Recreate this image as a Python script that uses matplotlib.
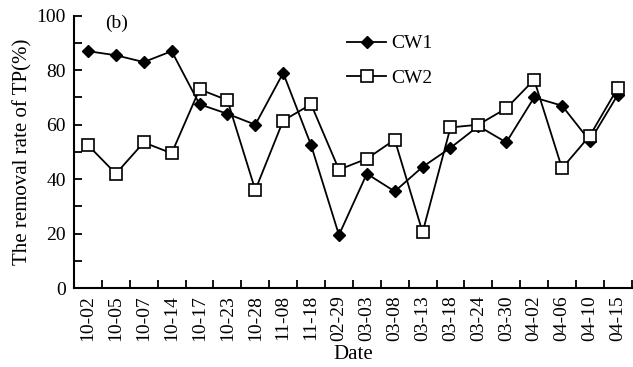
import matplotlib
matplotlib.use("Agg")
import matplotlib.pyplot as plt
from matplotlib.ticker import MultipleLocator, FixedLocator

dates = ["10-02", "10-05", "10-07", "10-14", "10-17", "10-23", "10-28", "11-08", "11-18", "02-29",
         "03-03", "03-08", "03-13", "03-18", "03-24", "03-30", "04-02", "04-06", "04-10", "04-15"]
cw1 = [87, 85.5, 83, 87, 67.5, 64, 60, 79, 52.5, 19.5,
       42, 35.5, 44.5, 51.5, 59.5, 53.5, 70, 67, 54, 71]
cw2 = [52.5, 42, 53.5, 49.5, 73, 69, 36, 61.5, 67.5, 43.5,
       47.5, 54.5, 20.5, 59, 60, 66, 76.5, 44, 56, 73.5]

plt.rcParams['font.family'] = ['Liberation Serif', 'DejaVu Serif']
fig = plt.figure(figsize=(6.33, 3.67), dpi=100)
ax = fig.add_axes([0.117, 0.215, 0.881, 0.742])

x = list(range(len(dates)))
ax.plot(x, cw1, color='black', lw=1.3, marker='D', ms=6, mfc='black', mec='black', label='CW1')
ax.plot(x, cw2, color='black', lw=1.3, marker='s', ms=8, mfc='white', mec='black', mew=1.2, label='CW2')

ax.set_xlim(-0.5, 19.5)
ax.set_ylim(0, 100)
ax.spines['top'].set_visible(False)
ax.spines['right'].set_visible(False)
for s in ['left', 'bottom']:
    ax.spines[s].set_linewidth(1.5)

ax.set_xticks(x)
ax.set_xticklabels(dates, rotation=90, fontsize=14)
ax.tick_params(axis='x', which='major', length=0, pad=5)
ax.xaxis.set_minor_locator(FixedLocator([i + 0.5 for i in range(len(dates))]))
ax.tick_params(axis='x', which='minor', direction='in', length=6, width=1.3)

ax.yaxis.set_major_locator(MultipleLocator(20))
ax.yaxis.set_minor_locator(MultipleLocator(10))
ax.tick_params(axis='y', which='both', direction='in', length=6, width=1.3, labelsize=14, pad=6)

ax.set_ylabel('The removal rate of TP(%)', fontsize=15, labelpad=3)
ax.set_xlabel('Date', fontsize=15, labelpad=3)

ax.text(0.055, 1.005, '(b)', transform=ax.transAxes, fontsize=14, va='top')

leg = ax.legend(loc='upper left', bbox_to_anchor=(0.49, 0.93), frameon=False, fontsize=14,
                handlelength=2.0, borderaxespad=0, borderpad=0, labelspacing=0.85, handletextpad=0.25)

fig.savefig('out.png', dpi=100)
